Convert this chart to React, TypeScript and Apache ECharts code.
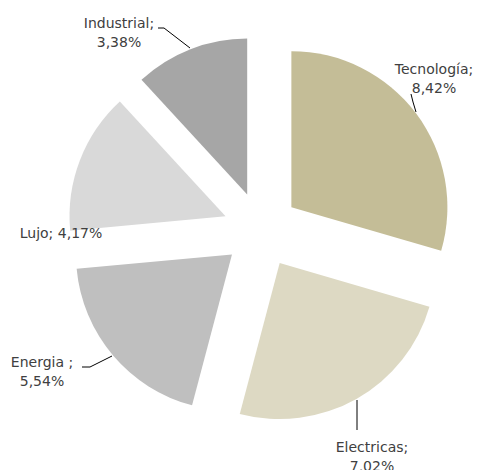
import React, { useEffect, useRef } from "react";
import * as echarts from "echarts";

const categories = ["Tecnología", "Electricas", "Energia ", "Lujo", "Industrial"];
const values = [8.42, 7.02, 5.54, 4.17, 3.38];
const colors = ["#C4BD97", "#DDD9C3", "#BFBFBF", "#D9D9D9", "#A6A6A6"];

// label block centres and leader lines (layout only)
const labelPos: [number, number][] = [
  [434, 78],
  [372, 456],
  [42, 371],
  [61, 233],
  [119, 32],
];
const leaderLines: ([number, number][] | null)[] = [
  [[416, 112], [413, 102], [411, 94]],
  [[357, 400], [357, 415], [357, 430]],
  [[112, 356], [90, 367], [82, 367]],
  null,
  [[190, 48], [164, 28], [158, 28]],
];

export default function App() {
  const ref = useRef<HTMLDivElement>(null);
  useEffect(() => {
    if (!ref.current) return;
    const chart = echarts.init(ref.current, null, { renderer: "svg" });
    const fmt = (v: number) => v.toFixed(2).replace(".", ",");
    const center = [261, 230];
    const radius = [0, 156];
    chart.setOption({
      animation: false,
      backgroundColor: "#ffffff",
      series: [
        {
          type: "pie",
          center,
          radius,
          startAngle: 90,
          clockwise: true,
          selectedMode: "multiple",
          selectedOffset: 38,
          silent: true,
          emphasis: { disabled: true },
          itemStyle: { borderWidth: 0 },
          label: { show: false },
          labelLine: { show: false },
          data: categories.map((name, i) => ({
            name,
            value: values[i],
            selected: true,
            itemStyle: { color: colors[i] },
          })),
        },
        {
          type: "pie",
          center,
          radius,
          startAngle: 90,
          clockwise: true,
          silent: true,
          z: 3,
          avoidLabelOverlap: false,
          emphasis: { disabled: true },
          itemStyle: { color: "rgba(0,0,0,0)", borderWidth: 0 },
          label: {
            show: true,
            position: "outside",
            color: "#404040",
            fontFamily: "DejaVu Sans",
            fontSize: 14,
            lineHeight: 19,
            align: "center",
            formatter: (p: any) =>
              p.dataIndex === 3
                ? `${p.name}; ${fmt(p.value)}%`
                : `${p.name};\n${fmt(p.value)}%`,
          },
          labelLine: { show: true, lineStyle: { color: "#000000", width: 1 } },
          labelLayout: (params: any) => {
            const i = params.dataIndex;
            const [x, y] = labelPos[i];
            const out: any = { x, y, align: "center", verticalAlign: "middle" };
            if (leaderLines[i]) out.labelLinePoints = leaderLines[i];
            return out;
          },
          data: categories.map((name, i) => ({
            name,
            value: values[i],
            labelLine: { show: leaderLines[i] !== null },
          })),
        },
      ],
    });
    return () => chart.dispose();
  }, []);
  return (
    <div
      ref={ref}
      style={{ position: "absolute", left: 0, top: 0, width: 481, height: 470 }}
    />
  );
}
